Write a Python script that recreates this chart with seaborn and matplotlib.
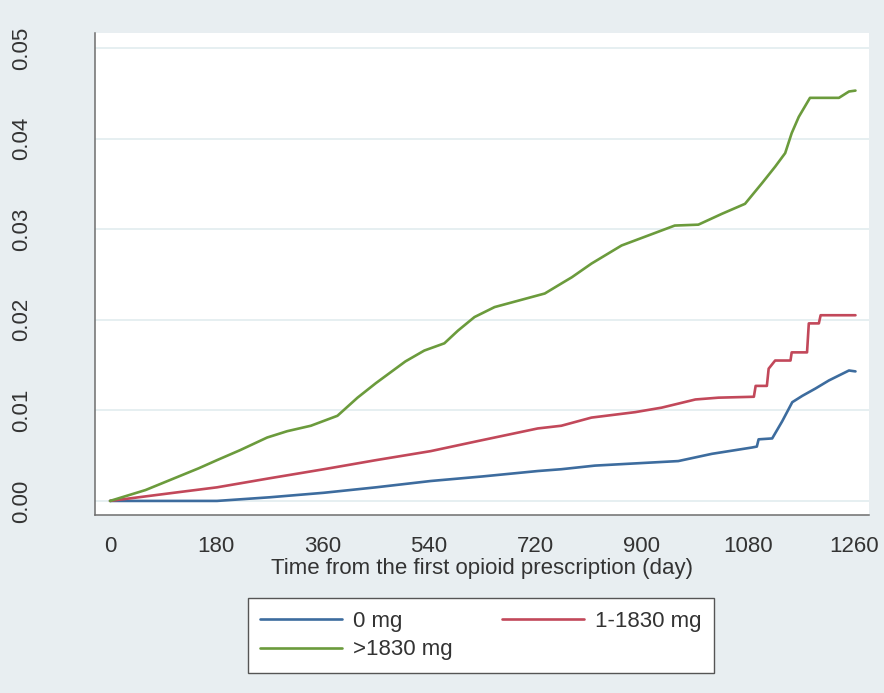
import matplotlib
matplotlib.use("Agg")
import matplotlib.pyplot as plt
from matplotlib import font_manager
import numpy as np
import pandas as pd
import seaborn as sns

# cumulative incidence, per cumulative dose group
days_none = [0, 90, 181, 270, 362, 450, 543, 630, 724, 764, 821, 877, 962, 1019,
             1087, 1095, 1098, 1121, 1138, 1155, 1172, 1194, 1217, 1251, 1262]
inc_none = [0.0, 0.0, 0.0, 0.0004, 0.0009, 0.0015, 0.0022, 0.0027, 0.0033, 0.0035,
            0.0039, 0.0041, 0.0044, 0.0052, 0.0059, 0.0060, 0.0068, 0.0069, 0.0088,
            0.0109, 0.0116, 0.0124, 0.0133, 0.0144, 0.0143]

days_low = [0, 60, 120, 181, 270, 362, 450, 543, 622, 724, 764, 815, 889, 934, 991,
            1030, 1090, 1093, 1112, 1115, 1126, 1152, 1154, 1180, 1183, 1200, 1203, 1262]
inc_low = [0.0, 0.0005, 0.0010, 0.0015, 0.0025, 0.0035, 0.0045, 0.0055, 0.0066,
           0.0080, 0.0083, 0.0092, 0.0098, 0.0103, 0.0112, 0.0114, 0.0115, 0.0127,
           0.0127, 0.0146, 0.0155, 0.0155, 0.0164, 0.0164, 0.0196, 0.0196, 0.0205, 0.0205]

days_high = [0, 30, 60, 90, 120, 150, 181, 220, 266, 300, 340, 385, 419, 450, 475,
             500, 532, 566, 589, 617, 651, 702, 736, 764, 782, 815, 866, 911, 956,
             996, 1036, 1075, 1104, 1126, 1143, 1154, 1166, 1185, 1234, 1251, 1262]
inc_high = [0.0, 0.0006, 0.0012, 0.0020, 0.0028, 0.0036, 0.0045, 0.0056, 0.0070,
            0.0077, 0.0083, 0.0094, 0.0114, 0.0130, 0.0142, 0.0154, 0.0166, 0.0174,
            0.0188, 0.0203, 0.0214, 0.0223, 0.0229, 0.0240, 0.0247, 0.0262, 0.0282,
            0.0293, 0.0304, 0.0305, 0.0317, 0.0328, 0.0351, 0.0369, 0.0384, 0.0406,
            0.0424, 0.0445, 0.0445, 0.0452, 0.0453]

groups = ["0 mg", "1-1830 mg", ">1830 mg"]
colors = {"0 mg": "#3d6c9e", "1-1830 mg": "#c2485a", ">1830 mg": "#6b9b3c"}
x_ticks = [0, 180, 360, 540, 720, 900, 1080, 1260]
y_ticks = [0.0, 0.01, 0.02, 0.03, 0.04, 0.05]

df = pd.concat([
    pd.DataFrame({"day": days_none, "inc": inc_none, "group": groups[0]}),
    pd.DataFrame({"day": days_low, "inc": inc_low, "group": groups[1]}),
    pd.DataFrame({"day": days_high, "inc": inc_high, "group": groups[2]}),
], ignore_index=True)

sns.set_style("white")
try:
    font_manager.findfont("Liberation Sans Narrow", fallback_to_default=False)
    fam = "Liberation Sans Narrow"
except Exception:
    fam = "Liberation Sans"
plt.rcParams["font.family"] = [fam, "DejaVu Sans"]
fs = 16

bg = "#e8eef1"
fig = plt.figure(figsize=(8.84, 6.93), dpi=100, facecolor=bg)
ax = fig.add_axes([0.1075, 0.2569, 0.8756, 0.6955])
ax.set_facecolor("white")

sns.lineplot(data=df, x="day", y="inc", hue="group", hue_order=groups,
             palette=colors, estimator=None, sort=False, linewidth=1.9,
             legend=False, ax=ax)

ax.set_xlim(-25.4, 1285)
ax.set_ylim(-0.00155, 0.05166)
ax.set_xticks(x_ticks)
ax.set_yticks(y_ticks)
ax.set_xticklabels([str(t) for t in x_ticks])
ax.set_yticklabels(["%.2f" % t for t in y_ticks], rotation=90, va="center")
for y in y_ticks:
    ax.axhline(y, color="#e6eff1", lw=1.4, zorder=0)

for s in ["top", "right"]:
    ax.spines[s].set_visible(False)
for s in ["left", "bottom"]:
    ax.spines[s].set_color("#6e6e6e")
    ax.spines[s].set_linewidth(1.1)
ax.tick_params(axis="both", direction="out", length=7, width=1.1,
               color="#6e6e6e", labelsize=fs, labelcolor="#333333")
ax.tick_params(axis="x", pad=8)
ax.tick_params(axis="y", pad=38)

ax.set_xlabel("Time from the first opioid prescription (day)", fontsize=fs,
              color="#333333", labelpad=1)
ax.set_ylabel("")

handles = [plt.Line2D([], [], color=colors[g], lw=1.9) for g in [groups[0], groups[2], groups[1]]]
labels = [groups[0], groups[2], groups[1]]
leg = fig.legend(handles, labels, loc="center", bbox_to_anchor=(0.544, 0.083),
                 ncol=2, fontsize=fs, frameon=True, fancybox=False, framealpha=1,
                 handlelength=3.7, handletextpad=0.5, columnspacing=2.2,
                 labelspacing=0.35, borderpad=0.55)
leg.get_frame().set_edgecolor("#555555")
leg.get_frame().set_linewidth(1.0)
leg.get_frame().set_facecolor("white")
for t in leg.get_texts():
    t.set_color("#333333")

fig.savefig("out.png", dpi=100, facecolor=bg)
